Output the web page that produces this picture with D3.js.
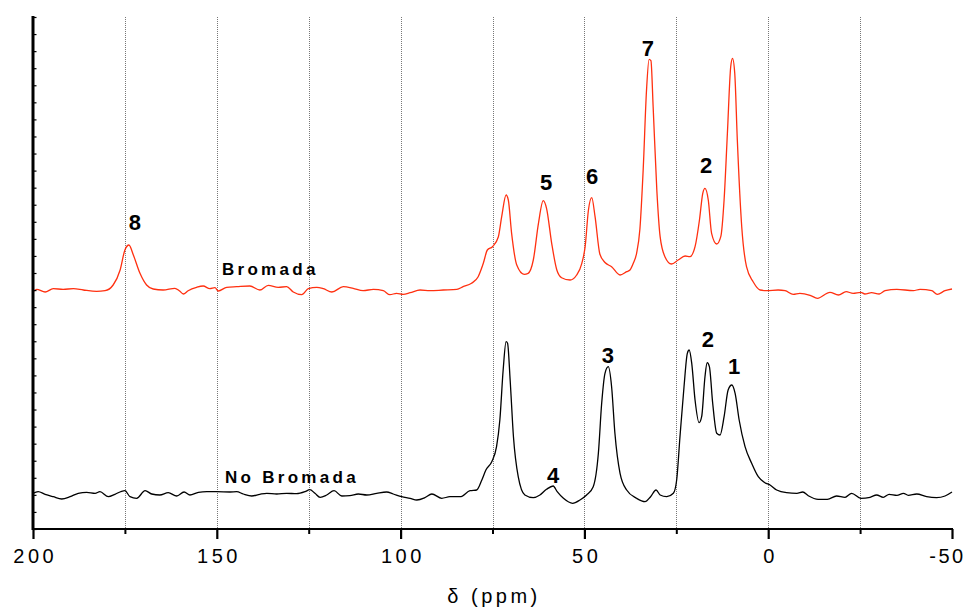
<!DOCTYPE html>
<html><head><meta charset="utf-8">
<script src="https://cdn.jsdelivr.net/npm/d3@7"></script>
<style>body{margin:0;background:#fff}svg{display:block}</style>
</head><body><svg id="c" width="968" height="607"></svg>
<script>
// ---- data (chemical shift ppm, intensity a.u.) ----
const bromada = [[200.0,237.3],[199.0,239.7],[196.7,237],[194.5,240.3],[191.8,239.7],[189.0,240.3],[186.3,239],[182.7,237.7],[180.4,238.3],[178.2,244],[176.3,259],[175.0,279],[173.9,284],[172.7,274],[170.9,255.7],[169.1,244],[167.3,240],[164.6,239],[161.4,240.7],[160.2,238.3],[159.1,235],[157.8,238.3],[155.5,241.7],[153.7,243],[151.9,240.3],[150.5,241.3],[149.6,238],[147.3,241.7],[144.6,242.3],[141.0,243],[138.3,239],[136.0,243.7],[133.3,241.7],[131.0,242.3],[129.2,237],[126.9,234.3],[125.1,240.3],[122.8,241.7],[121.0,240.3],[118.7,237],[115.6,242.3],[112.9,240.7],[110.2,238.3],[107.4,239.7],[104.7,238.3],[102.9,234.3],[101.1,235.7],[99.3,234.7],[97.4,236.3],[94.7,239],[92.0,238.3],[88.4,239],[84.7,239.7],[83.0,242.3],[80.7,245.7],[78.9,252.3],[77.5,265.7],[76.4,279],[75.0,282.3],[73.4,292.3],[72.5,312.3],[71.3,334],[70.7,329],[69.8,295.7],[68.4,264],[66.4,254.7],[65.3,255.7],[63.9,269],[62.5,305.7],[61.2,328.3],[60.3,320.7],[58.9,285.7],[57.5,259],[56.2,251.3],[53.9,249],[52.1,254],[50.7,265.7],[49.8,282.3],[48.9,319],[48.0,331.3],[47.1,312.3],[45.8,275],[44.4,266.5],[42.6,262.3],[40.3,254],[38.5,257.3],[37.6,259],[36.7,265.7],[35.8,275.7],[34.9,300],[34.0,360],[33.1,439],[32.4,469.7],[31.9,468.3],[31.3,422.3],[30.3,339],[29.4,292.3],[28.1,272.3],[26.3,265],[24.5,269],[22.6,273],[21.3,272.3],[19.9,282.3],[18.7,309],[17.8,335.7],[17.2,340.7],[16.3,329],[15.4,295.7],[14.0,285],[12.9,292.3],[12.0,329],[11.1,395.7],[10.2,462.3],[9.7,470.7],[9.1,455.7],[8.4,389],[7.2,302.3],[5.9,262.3],[4.1,247.3],[2.2,239],[0.4,238.3],[-2.7,239],[-4.6,238.3],[-6.8,234.7],[-8.6,235.7],[-11.4,233.7],[-13.4,230.7],[-16.8,236.7],[-19.1,234],[-21.2,237.3],[-23.1,235.7],[-25.2,236.7],[-26.3,235],[-28.1,236.3],[-30.2,235],[-31.8,238.3],[-35.0,239.7],[-39.5,238.3],[-41.3,239.7],[-44.5,238.3],[-46.0,234.7],[-48.1,238.3],[-50.0,240]];

const noBromada = [[200.0,35.7],[198.6,37.3],[196.7,34.7],[194.5,32.3],[192.2,30],[189.9,32.3],[187.7,35.7],[185.4,36.7],[183.1,35.7],[181.8,37.3],[179.5,32.3],[177.7,34.7],[175.9,37.7],[175.0,38.3],[173.6,32.3],[171.8,30.7],[169.5,38.3],[167.7,35],[165.5,34],[163.2,36.3],[160.9,33],[158.9,37],[157.3,34],[155.0,36.7],[152.7,37.3],[150.0,37.3],[146.4,37],[144.6,37.3],[142.8,35],[140.5,33],[138.3,34.7],[136.4,35.7],[133.7,35],[131.0,35.7],[128.3,35.3],[126.0,37.3],[124.7,39.3],[123.3,35.7],[121.9,31.7],[120.1,34],[118.1,38.3],[116.0,33],[113.8,33.3],[111.5,35],[109.2,34],[106.5,35.7],[103.8,37],[102.0,35],[99.7,32.3],[97.4,30.7],[95.6,29],[93.4,31.3],[91.5,35],[88.8,30.7],[86.6,32.3],[83.8,32.3],[81.1,38.3],[79.3,39],[77.9,49],[76.8,59],[75.2,67.3],[73.9,82.3],[73.0,109],[72.1,159],[71.3,187.3],[70.9,185.7],[70.2,149],[69.3,92.3],[68.0,52.3],[66.2,34],[63.9,31.3],[62.1,34],[60.3,39.7],[58.5,43],[57.4,37.3],[55.7,30.7],[53.2,25.7],[51.2,29],[49.4,34],[47.6,42.3],[46.2,75.7],[45.3,125.7],[44.4,155.7],[43.5,162.3],[42.6,142.3],[41.7,95.7],[40.3,55.7],[38.5,39],[35.8,30.7],[33.5,27.3],[32.0,32.3],[30.5,39],[29.4,34],[27.6,32.3],[25.8,35.7],[24.9,49],[24.0,92.3],[22.9,142.3],[22.0,175.7],[21.5,179],[20.8,165.7],[19.9,129],[18.8,106.3],[18.1,112.3],[17.2,152.3],[16.6,166.3],[16.0,162.3],[15.1,125.7],[14.0,95.7],[13.1,94],[12.0,112.3],[10.9,139],[9.9,144],[9.0,135.7],[7.9,109],[6.3,82.3],[4.5,65.7],[2.7,52.3],[0.9,46.3],[-0.5,44],[-2.3,39],[-5.0,36.3],[-7.8,35.7],[-9.4,37],[-10.9,33.3],[-13.6,29.7],[-16.1,29.7],[-18.6,33],[-20.9,31.7],[-22.7,35.7],[-25.2,30.7],[-27.7,31.7],[-29.5,34],[-31.3,31.7],[-32.9,34.7],[-35.0,33.7],[-36.8,35.7],[-38.1,33.7],[-40.4,35],[-43.1,32.3],[-45.8,31.3],[-48.1,33],[-50.0,37]];

const majorTicks = [200, 150, 100, 50, 0, -50];
const minorTicks = [175, 125, 75, 25, -25];
const gridLines = [175, 150, 125, 100, 75, 50, 25, 0, -25];
const yTickCount = 30;

const peakLabels = [
  {t:"8", ppm:172.3, i:307},
  {t:"5", ppm:60.4, i:347},
  {t:"6", ppm:47.9, i:353},
  {t:"7", ppm:32.7, i:481},
  {t:"2", ppm:16.9, i:364},
  {t:"3", ppm:43.6, i:174},
  {t:"2", ppm:16.4, i:190},
  {t:"1", ppm:9.3, i:163},
  {t:"4", ppm:58.5, i:54}
];
const traceLabels = [
  {t:"Bromada", ppm:148.6, i:254},
  {t:"No Bromada", ppm:147.8, i:46}
];

// ---- drawing ----
const svg = d3.select("#c");
const L = 33, R = 952, T = 17, B = 529;
const x = d3.scaleLinear().domain([200, -50]).range([L, R]);
const y = d3.scaleLinear().domain([0, 512]).range([B, T]);
const font = "'Liberation Sans', Arial, Helvetica, sans-serif";

// grid
svg.append("g").selectAll("line").data(gridLines).join("line")
  .attr("x1", d => Math.round(x(d)) + 0.5).attr("x2", d => Math.round(x(d)) + 0.5)
  .attr("y1", T).attr("y2", B)
  .attr("stroke", "#777").attr("stroke-width", 1).attr("stroke-dasharray", "1,1");

// traces
const line = d3.line().x(d => x(d[0])).y(d => y(d[1])).curve(d3.curveMonotoneX);
const sorted = a => a.slice().sort((p, q) => p[0] - q[0]);
svg.append("path").datum(sorted(bromada)).attr("d", line)
  .attr("fill", "none").attr("stroke", "#ff3010").attr("stroke-width", 1.3);
svg.append("path").datum(sorted(noBromada)).attr("d", line)
  .attr("fill", "none").attr("stroke", "#000").attr("stroke-width", 1.3);

// x axis
const gx = svg.append("g").attr("transform", `translate(0,${B})`);
gx.call(d3.axisBottom(x).tickValues(majorTicks).tickSize(10).tickSizeOuter(0).tickFormat(d => String(d)));
gx.select(".domain").remove();
gx.selectAll(".tick line").attr("stroke-width", 2.2);
gx.selectAll(".tick text").attr("y", 34).attr("dy", 0)
  .attr("font-family", font).attr("font-size", 20).attr("fill", "#000")
  .style("letter-spacing", d => d === -50 ? "2.5px" : "3.5px")
  .attr("dx", d => d === -50 ? -5 : 1.75);
const gxm = svg.append("g").attr("transform", `translate(0,${B})`);
gxm.call(d3.axisBottom(x).tickValues(minorTicks).tickSize(5).tickFormat(""));
gxm.select(".domain").remove();
gxm.selectAll(".tick line").attr("stroke-width", 2);
svg.append("line").attr("x1", L - 1).attr("x2", R + 1).attr("y1", B).attr("y2", B)
  .attr("stroke", "#000").attr("stroke-width", 2.2);

// y axis
const yTicks = d3.range(0, yTickCount + 1).map(k => k * 512 / yTickCount);
const gy = svg.append("g").attr("transform", `translate(${L},0)`);
gy.call(d3.axisRight(y).tickValues(yTicks).tickSize(3.5).tickFormat(""));
gy.select(".domain").remove();
gy.selectAll(".tick line").attr("stroke-width", 1.2);
svg.append("line").attr("x1", L).attr("x2", L).attr("y1", T - 1).attr("y2", B + 1)
  .attr("stroke", "#000").attr("stroke-width", 3);

// axis title
svg.append("text").attr("x", 494).attr("y", 603).attr("text-anchor", "middle")
  .attr("font-family", font).attr("font-size", 20).style("letter-spacing", "3.5px")
  .text("δ (ppm)");

// peak labels
svg.append("g").selectAll("text").data(peakLabels).join("text")
  .attr("x", d => x(d.ppm)).attr("y", d => y(d.i)).attr("dy", "0.36em")
  .attr("text-anchor", "middle").attr("font-family", font).attr("font-weight", "bold")
  .attr("font-size", 22).text(d => d.t);

// trace labels
svg.append("g").selectAll("text").data(traceLabels).join("text")
  .attr("x", d => x(d.ppm)).attr("y", d => y(d.i))
  .attr("font-family", font).attr("font-weight", "bold").attr("font-size", 17)
  .style("letter-spacing", "3.3px").text(d => d.t);
</script></body></html>
